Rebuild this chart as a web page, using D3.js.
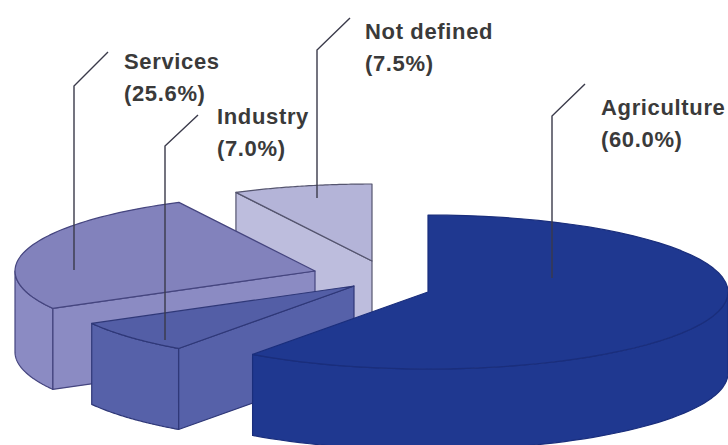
<!DOCTYPE html>
<html>
<head>
<meta charset="utf-8">
<script src="https://cdn.jsdelivr.net/npm/d3@7"></script>
<style>
html, body { margin: 0; padding: 0; background: #fff; }
svg { display: block; }
.label { font-family: "Liberation Sans", Arial, sans-serif; font-weight: bold; font-size: 22px; letter-spacing: 0.65px; fill: #3a3a3a; }
</style>
</head>
<body>
<script>
var categories = ["Agriculture", "Industry", "Services", "Not defined"];
var values = [60.0, 7.0, 25.6, 7.5];
var valueLabels = ["(60.0%)", "(7.0%)", "(25.6%)", "(7.5%)"];

// layout, per slice in the same order
var apexX = [428, 354, 315, 372];
var apexY = [292, 286, 271, 261];
var topColors = ["#1f3890", "#535ea6", "#8282bc", "#b4b4d8"];
var wallColors = ["#1f3890", "#5661a9", "#8b8bc3", "#bdbddd"];
var edgeColors = ["#1a2e7c", "#2f3878", "#45457f", "#55556f"];
var labelX = [601, 217, 124, 365];
var labelY = [115, 124, 69, 39];
var leaderX = [[585, 552, 552], [198, 165, 165], [108, 74, 74], [350, 317, 317]];
var leaderY = [[84, 116, 278], [115, 146, 340], [52, 86, 270], [18, 50, 198]];

var width = 728, height = 445;
var rx = 300, ry = 77, depth = 81;
var lineGap = 32;

var svg = d3.select("body")
	.append("svg")
	.attr("width", width)
	.attr("height", height);

var pie = d3.pie().sort(null);
var slices = pie(values).map(function(d, i) { d.i = i; return d; });

var line = d3.line();

function rim(d, a, drop) {
	return [apexX[d.i] + rx * Math.sin(a), apexY[d.i] - ry * Math.cos(a) + (drop || 0)];
}

function arcPoints(d, a0, a1, drop) {
	return d3.range(0, 61).map(function(k) {
		return rim(d, a0 + (a1 - a0) * k / 60, drop);
	});
}

function wall(d, a) {
	var p = rim(d, a);
	var c = [apexX[d.i], apexY[d.i]];
	return [p, c, [c[0], c[1] + depth], [p[0], p[1] + depth]];
}

// back to front: Not defined, Services, Industry, Agriculture
var order = slices.slice().reverse();
order.forEach(function(d) {
	var g = svg.append("g")
		.attr("stroke", edgeColors[d.i])
		.attr("stroke-width", 1.2)
		.attr("stroke-linejoin", "round");

	// cut faces that turn towards the viewer
	if (Math.sin(d.startAngle) < -1e-6) {
		g.append("path").attr("d", line(wall(d, d.startAngle)) + "Z").attr("fill", wallColors[d.i]);
	}
	if (Math.sin(d.endAngle) > 1e-6) {
		g.append("path").attr("d", line(wall(d, d.endAngle)) + "Z").attr("fill", wallColors[d.i]);
	}

	// outer wall, front half only
	var a0 = Math.max(d.startAngle, Math.PI / 2);
	var a1 = Math.min(d.endAngle, Math.PI * 3 / 2);
	if (a1 > a0) {
		var pts = arcPoints(d, a0, a1, 0).concat(arcPoints(d, a1, a0, depth));
		g.append("path").attr("d", line(pts) + "Z").attr("fill", wallColors[d.i]);
	}

	// top face
	var top = [[apexX[d.i], apexY[d.i]]].concat(arcPoints(d, d.startAngle, d.endAngle, 0));
	g.append("path").attr("d", line(top) + "Z").attr("fill", topColors[d.i]);
});

// leaders and labels
categories.forEach(function(name, i) {
	var pts = d3.zip(leaderX[i], leaderY[i]);
	svg.append("path")
		.attr("d", line(pts))
		.attr("fill", "none")
		.attr("stroke", "#3a3a4a")
		.attr("stroke-width", 1.4);
	svg.append("text").attr("class", "label").attr("x", labelX[i]).attr("y", labelY[i]).text(name);
	svg.append("text").attr("class", "label").attr("x", labelX[i]).attr("y", labelY[i] + lineGap).text(valueLabels[i]);
});
</script>
</body>
</html>
